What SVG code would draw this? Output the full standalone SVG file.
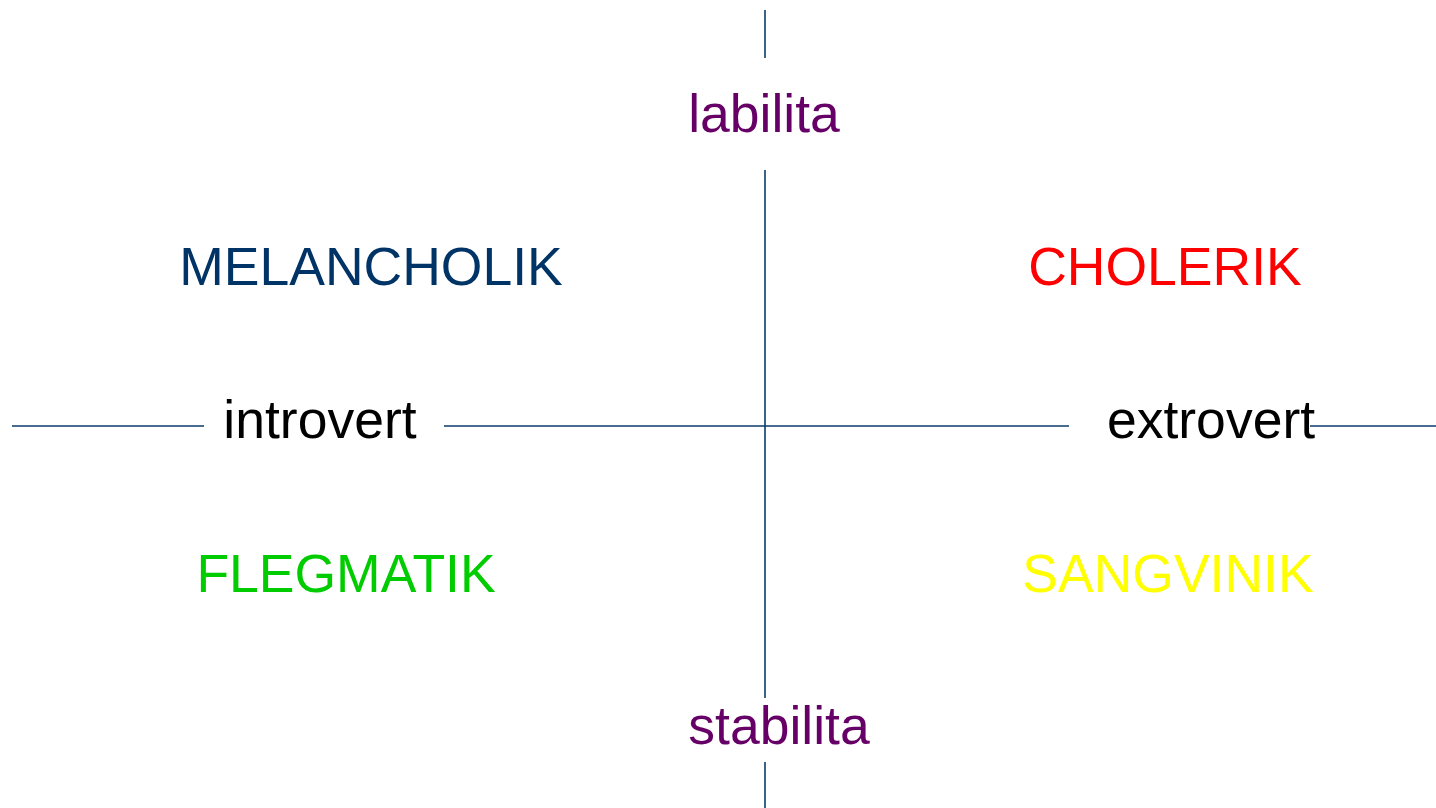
<svg xmlns="http://www.w3.org/2000/svg" width="1436" height="808" viewBox="0 0 1436 808">
<style>
text{font-family:"Liberation Sans",Arial,sans-serif;font-size:53.5px;text-anchor:middle}
.ax{stroke:#0b3b6b;stroke-width:1.6;fill:none}
</style>
<rect width="1436" height="808" fill="#fff"/>
<g id="connectors">
<line class="ax" x1="765" y1="10" x2="765" y2="58"/>
<line class="ax" x1="765" y1="170" x2="765" y2="698"/>
<line class="ax" x1="765" y1="762" x2="765" y2="808"/>
<line class="ax" x1="12" y1="426" x2="204" y2="426"/>
<line class="ax" x1="444" y1="426" x2="1069" y2="426"/>
<line class="ax" x1="1310" y1="426" x2="1436" y2="426"/>
</g>
<g id="labilita"><text x="764" y="132" fill="#660066">labilita</text></g>
<g id="stabilita"><text x="779" y="744" fill="#660066">stabilita</text></g>
<g id="melancholik"><text x="371" y="285" fill="#003366">MELANCHOLIK</text></g>
<g id="cholerik"><text x="1165" y="285" fill="#ff0000">CHOLERIK</text></g>
<g id="flegmatik"><text x="346" y="592" fill="#00cc00">FLEGMATIK</text></g>
<g id="sangvinik"><text x="1168" y="592" fill="#ffff00">SANGVINIK</text></g>
<g id="introvert"><text x="320" y="438" fill="#000">introvert</text></g>
<g id="extrovert"><text x="1211" y="438" fill="#000">extrovert</text></g>
</svg>
